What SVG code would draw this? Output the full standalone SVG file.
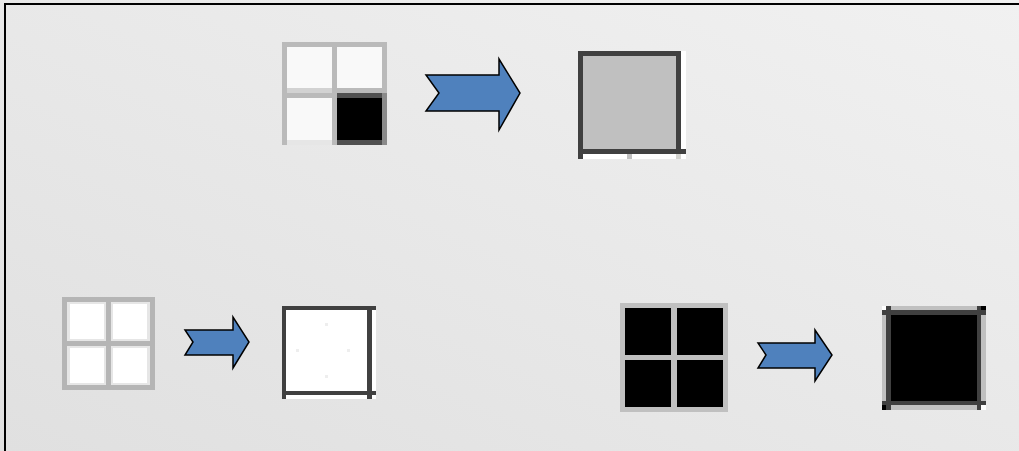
<svg xmlns="http://www.w3.org/2000/svg" width="1019" height="451" viewBox="0 0 1019 451">
<defs>
<linearGradient id="bg" x1="0" y1="1" x2="1" y2="0">
<stop offset="0" stop-color="#e0e0e0"/>
<stop offset="1" stop-color="#f1f1f1"/>
</linearGradient>
<style>
.arrow{fill:#4f81bd;stroke:#000;stroke-width:1.5;stroke-linejoin:miter}
.dk{fill:#404040}
.lg{fill:#c0c0c0}
.wh{fill:#ffffff}
.bk{fill:#000000}
.cell{fill:#f9f9f9}
.band{fill:#e6e6e6}
</style>
</defs>
<rect x="0" y="0" width="1019" height="451" fill="url(#bg)"/>
<path d="M5,451 V4 H1019" fill="none" stroke="#000" stroke-width="2"/>

<g id="grid-mixed">
<rect x="282" y="42" width="105" height="103" fill="#bababa"/>
<rect x="287" y="47" width="45" height="41" class="cell"/>
<rect x="337" y="47" width="45" height="41" class="cell"/>
<rect x="287" y="88" width="45" height="5" fill="#d2d2d2"/>
<rect x="287" y="98" width="45" height="42" class="cell"/>
<rect x="287" y="140" width="45" height="5" fill="#e6e6e6"/>
<rect x="337" y="93" width="45" height="5" fill="#505050"/>
<rect x="382" y="93" width="5" height="52" fill="#8a8a8a"/>
<rect x="337" y="98" width="45" height="42" class="bk"/>
<rect x="337" y="140" width="45" height="5" fill="#505050"/>
</g>

<g id="result-gray">
<rect x="581" y="54" width="98" height="98" class="lg"/>
<rect x="578" y="51" width="103" height="5" class="dk"/>
<rect x="578" y="51" width="5" height="108" class="dk"/>
<rect x="676" y="51" width="5" height="103" class="dk"/>
<rect x="578" y="149" width="108" height="5" class="dk"/>
<rect x="681" y="51" width="5" height="98" class="wh"/>
<rect x="583" y="154" width="103" height="5" class="wh"/>
<rect x="627" y="154" width="5" height="5" class="lg"/>
<rect x="676" y="154" width="5" height="5" fill="#d4d4d0"/>
</g>

<g id="grid-white">
<rect x="62" y="297" width="93" height="93" fill="#b5b5b5"/>
<rect x="67" y="302" width="39" height="39" class="band"/>
<rect x="111" y="302" width="39" height="39" class="band"/>
<rect x="67" y="346" width="39" height="39" class="band"/>
<rect x="111" y="346" width="39" height="39" class="band"/>
<rect x="70" y="304" width="34" height="35" class="wh"/>
<rect x="113" y="304" width="34" height="35" class="wh"/>
<rect x="70" y="348" width="34" height="35" class="wh"/>
<rect x="113" y="348" width="34" height="35" class="wh"/>
</g>

<g id="result-white">
<rect x="282" y="306" width="94" height="93" class="wh"/>
<rect x="282" y="306" width="94" height="4" class="dk"/>
<rect x="282" y="306" width="4" height="93" class="dk"/>
<rect x="367" y="306" width="5" height="93" class="dk"/>
<rect x="282" y="391" width="94" height="4" class="dk"/>
<rect x="325" y="323" width="3" height="3" fill="#eeeeee"/>
<rect x="296" y="349" width="3" height="3" fill="#eeeeee"/>
<rect x="347" y="349" width="3" height="3" fill="#eeeeee"/>
<rect x="325" y="375" width="3" height="3" fill="#eeeeee"/>
</g>

<g id="grid-black">
<rect x="620" y="303" width="108" height="109" class="lg"/>
<rect x="625" y="308" width="46" height="47" class="bk"/>
<rect x="677" y="308" width="46" height="47" class="bk"/>
<rect x="625" y="360" width="46" height="47" class="bk"/>
<rect x="677" y="360" width="46" height="47" class="bk"/>
</g>

<g id="result-black">
<rect x="882" y="306" width="104" height="104" class="lg"/>
<rect x="891" y="315" width="86" height="86" class="bk"/>
<rect x="886" y="306" width="5" height="104" class="dk"/>
<rect x="977" y="306" width="4" height="104" class="dk"/>
<rect x="882" y="310" width="104" height="5" class="dk"/>
<rect x="882" y="401" width="104" height="4" class="dk"/>
<rect x="882" y="306" width="4" height="4" class="wh"/>
<rect x="981" y="306" width="5" height="4" class="bk"/>
<rect x="882" y="405" width="4" height="5" class="bk"/>
<rect x="981" y="405" width="5" height="5" class="wh"/>
</g>

<g id="connectors">
<polygon class="arrow" points="426,75 499,75 499,59 520,93 499,130 499,111 426,111 439,93"/>
<polygon class="arrow" points="185,330 233,330 233,317 249,342 233,368 233,355 185,355 193,342"/>
<polygon class="arrow" points="758,343 815,343 815,330 832,355 815,381 815,368 758,368 766,355"/>
</g>
</svg>
